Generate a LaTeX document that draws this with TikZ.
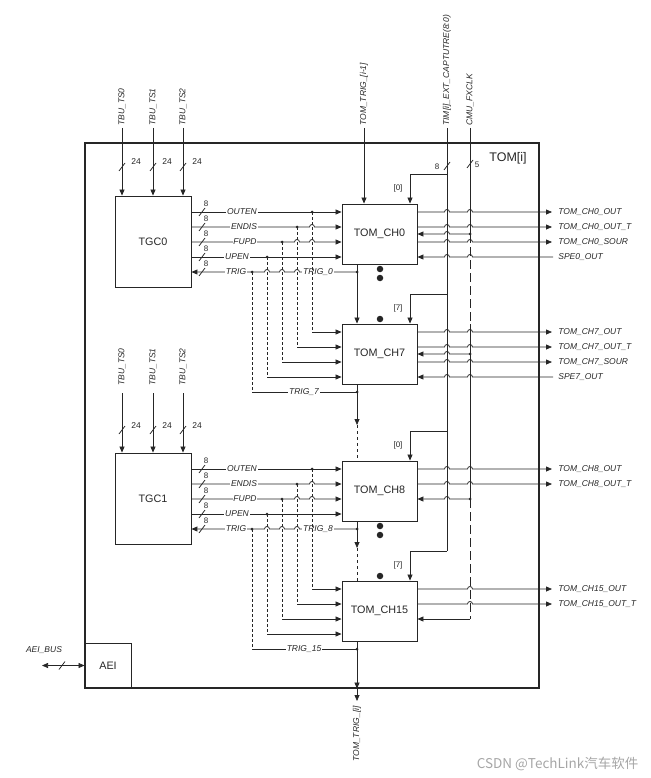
\documentclass[tikz,border=0pt]{standalone}
\usepackage{fontspec}
\setmainfont{Liberation Sans}
\newfontfamily\cjkfont{Noto Sans CJK SC}
\usepackage{tikz}
\usetikzlibrary{arrows.meta,positioning}

% bus slash and line hops
\newcommand{\busmark}[2]{\draw ({#1-3},{#2+4}) -- ({#1+3},{#2-4});}
\newcommand{\hopr}[2]{-- ({#1-2.5},#2) .. controls ({#1-2.5},{#2-3.3}) and ({#1+2.5},{#2-3.3}) .. ({#1+2.5},#2)}
\newcommand{\hopl}[2]{-- ({#1+2.5},#2) .. controls ({#1+2.5},{#2-3.3}) and ({#1-2.5},{#2-3.3}) .. ({#1-2.5},#2)}

\begin{document}
\begin{tikzpicture}[x=1pt, y=-1pt, color=black!85, line width=0.75pt,
    >={Triangle[length=6pt,width=5pt]},
    blk/.style={draw, line width=0.9pt, inner sep=0pt, font=\fontsize{10.8}{12}\selectfont},
    sig/.style={font=\fontsize{8.5}{10}\selectfont\itshape, fill=white, inner sep=0.8pt},
    outl/.style={font=\fontsize{8.5}{10}\selectfont\itshape, anchor=west, inner sep=0pt},
    vlab/.style={font=\fontsize{8.5}{10}\selectfont\itshape, rotate=90, anchor=west, inner sep=0pt},
    num/.style={font=\fontsize{8}{9}\selectfont, inner sep=0pt},
    jdot/.style={circle, fill, inner sep=0pt, minimum size=3pt},
    bdot/.style={circle, fill, inner sep=0pt, minimum size=6.5pt},
    sdash/.style={dash pattern=on 3pt off 2pt},
    ldash/.style={dash pattern=on 9pt off 4pt}]
    \useasboundingbox (0,0) rectangle (650,778);

    % TOM frame
    \node[draw, line width=1.2pt, minimum width=454, minimum height=545, inner sep=0pt] (tom) at (312,415.5) {};
    \node[font=\fontsize{12.5}{14}\selectfont] (tomlab) at (508,158) {TOM[i]};

    % AEI
    \node[blk, minimum width=46, minimum height=45] (aei) at (108,665.5) {AEI};
    \draw[<->] (42,665.5) -- (aei.west);
    \busmark{62}{665.5}
    \node[sig, fill=none] (aeibus) at (44,650) {AEI\_BUS};

    % TGC0, TOM_CH0, TOM_CH7
    \begin{scope}
        \node[blk, minimum width=76, minimum height=91] (tgc0) at (153,241.5) {TGC0};
        \node[blk, minimum width=75, minimum height=60] (ch0) at (379.5,234) {TOM\_CH0};
        \node[blk, minimum width=75, minimum height=60] (ch7) at (379.5,354) {TOM\_CH7};
        \foreach \x/\n in {122/0,153/1,183/2}{
            \draw[->] (\x,128) -- (tgc0.north -| \x,0);
            \busmark{\x}{167}
            \node[num, font=\fontsize{8.5}{10}\selectfont] at (\x+14,162) {24};
            \node[vlab] at (\x,126) {TBU\_TS\n};
        }
        \draw[->] (tgc0.east |- 0,212) -- (ch0.west |- 0,212);
        \draw[->] (tgc0.east |- 0,227) \hopr{312}{227} -- (ch0.west |- 0,227);
        \draw[->] (tgc0.east |- 0,242) \hopr{297}{242} \hopr{312}{242} -- (ch0.west |- 0,242);
        \draw[->] (tgc0.east |- 0,257) -- (ch0.west |- 0,257);
        \draw[->] (357,272) \hopl{312}{272} \hopl{297}{272} \hopl{282}{272} \hopl{267}{272} -- (tgc0.east |- 0,272);
        \foreach \y in {212,227,242,257,272}{
            \busmark{202}{\y}
            \node[num] at (206,\y-8) {8};
        }
        \node[sig] at (242,212) {OUTEN};
        \node[sig] at (244,227) {ENDIS};
        \node[sig] at (245,242) {FUPD};
        \node[sig] at (237,257) {UPEN};
        \node[sig] at (236,272) {TRIG};
        \node[sig] at (318,272) {TRIG\_0};
        \foreach \x/\ya/\yb in {312/212/332, 297/227/347, 282/242/362, 267/257/377}{
            \draw[sdash] (\x,\ya) -- (\x,\yb);
            \draw[->] (\x,\yb) -- (ch7.west |- 0,\yb);
            \node[jdot] at (\x,\ya) {};
        }
        \draw[sdash] (252,272) -- (252,392);
        \draw (252,392) -- (357,392);
        \node[jdot] at (252,272) {};
        \node[sig] at (304,392) {TRIG\_7};
        % trigger chain
        \draw[->] (ch0.south -| 357,0) -- (ch7.north -| 357,0);
        \node[jdot] at (357,272) {};
        \draw (ch7.south -| 357,0) -- (357,392);
        \node[jdot] at (357,392) {};
        \node[bdot] at (380,269) {};
        \node[bdot] at (380,278) {};
        \node[bdot] at (380,319) {};
        % outputs CH0
        \draw[->] (ch0.east |- 0,212) \hopr{447}{212} \hopr{470}{212} -- (552,212);
        \draw[->] (ch0.east |- 0,227) \hopr{447}{227} \hopr{470}{227} -- (552,227);
        \draw[->] (ch0.east |- 0,242) \hopr{447}{242} \hopr{470}{242} -- (552,242);
        \draw[->] (553,257) \hopl{470}{257} \hopl{447}{257} -- (ch0.east |- 0,257);
        \draw[->] (470,234) \hopl{447}{234} -- (ch0.east |- 0,234);
        \node[jdot] at (470,234) {};
        \node[outl] at (558,212) {TOM\_CH0\_OUT};
        \node[outl] at (558,227) {TOM\_CH0\_OUT\_T};
        \node[outl] at (558,242) {TOM\_CH0\_SOUR};
        \node[outl] at (558,257) {SPE0\_OUT};
        \draw[->] (447,174) -- (410,174) -- (ch0.north -| 410,0);
        \node[num] at (398,188) {[0]};
        % outputs CH7
        \draw[->] (ch7.east |- 0,332) \hopr{447}{332} \hopr{470}{332} -- (552,332);
        \draw[->] (ch7.east |- 0,347) \hopr{447}{347} \hopr{470}{347} -- (552,347);
        \draw[->] (ch7.east |- 0,362) \hopr{447}{362} \hopr{470}{362} -- (552,362);
        \draw[->] (553,377) \hopl{470}{377} \hopl{447}{377} -- (ch7.east |- 0,377);
        \draw[->] (470,354) \hopl{447}{354} -- (ch7.east |- 0,354);
        \node[jdot] at (470,354) {};
        \node[outl] at (558,332) {TOM\_CH7\_OUT};
        \node[outl] at (558,347) {TOM\_CH7\_OUT\_T};
        \node[outl] at (558,362) {TOM\_CH7\_SOUR};
        \node[outl] at (558,377) {SPE7\_OUT};
        \draw[->] (447,294) -- (410,294) -- (ch7.north -| 410,0);
        \node[num] at (398,308) {[7]};
    \end{scope}

    % TGC1, TOM_CH8, TOM_CH15
    \begin{scope}[shift={(0,257)}]
        \node[blk, minimum width=76, minimum height=91] (tgc1) at (153,241.5) {TGC1};
        \node[blk, minimum width=75, minimum height=60] (ch8) at (379.5,234) {TOM\_CH8};
        \node[blk, minimum width=75, minimum height=60] (ch15) at (379.5,354) {TOM\_CH15};
        \foreach \x/\n in {122/0,153/1,183/2}{
            \draw[->] (\x,136) -- (tgc1.north -| \x,0);
            \busmark{\x}{173}
            \node[num, font=\fontsize{8.5}{10}\selectfont] at (\x+14,169) {24};
            \node[vlab] at (\x,129) {TBU\_TS\n};
        }
        \draw[->] (tgc1.east |- 0,212) -- (ch8.west |- 0,212);
        \draw[->] (tgc1.east |- 0,227) \hopr{312}{227} -- (ch8.west |- 0,227);
        \draw[->] (tgc1.east |- 0,242) \hopr{297}{242} \hopr{312}{242} -- (ch8.west |- 0,242);
        \draw[->] (tgc1.east |- 0,257) -- (ch8.west |- 0,257);
        \draw[->] (357,272) \hopl{312}{272} \hopl{297}{272} \hopl{282}{272} \hopl{267}{272} -- (tgc1.east |- 0,272);
        \foreach \y in {212,227,242,257,272}{
            \busmark{202}{\y}
            \node[num] at (206,\y-8) {8};
        }
        \node[sig] at (242,212) {OUTEN};
        \node[sig] at (244,227) {ENDIS};
        \node[sig] at (245,242) {FUPD};
        \node[sig] at (237,257) {UPEN};
        \node[sig] at (236,272) {TRIG};
        \node[sig] at (318,272) {TRIG\_8};
        \foreach \x/\ya/\yb in {312/212/332, 297/227/347, 282/242/362, 267/257/377}{
            \draw[sdash] (\x,\ya) -- (\x,\yb);
            \draw[->] (\x,\yb) -- (ch15.west |- 0,\yb);
            \node[jdot] at (\x,\ya) {};
        }
        \draw[sdash] (252,272) -- (252,392);
        \draw (252,392) -- (357,392);
        \node[jdot] at (252,272) {};
        \node[sig] at (304,392) {TRIG\_15};
        % trigger chain
        \draw[->] (ch8.south -| 357,0) -- (357,291);
        \draw[dashed] (357,291) -- (ch15.north -| 357,0);
        \node[jdot] at (357,272) {};
        \draw (ch15.south -| 357,0) -- (357,392);
        \node[jdot] at (357,392) {};
        \node[bdot] at (380,269) {};
        \node[bdot] at (380,278) {};
        \node[bdot] at (380,319) {};
        % outputs CH8
        \draw[->] (ch8.east |- 0,212) \hopr{447}{212} \hopr{470}{212} -- (552,212);
        \draw[->] (ch8.east |- 0,227) \hopr{447}{227} \hopr{470}{227} -- (552,227);
        \draw[->] (470,242) \hopl{447}{242} -- (ch8.east |- 0,242);
        \node[jdot] at (470,242) {};
        \node[outl] at (558,212) {TOM\_CH8\_OUT};
        \node[outl] at (558,227) {TOM\_CH8\_OUT\_T};
        \draw[->] (447,174) -- (410,174) -- (ch8.north -| 410,0);
        \node[num] at (398,188) {[0]};
        % outputs CH15
        \draw[->] (ch15.east |- 0,332) \hopr{470}{332} -- (552,332);
        \draw[->] (ch15.east |- 0,347) \hopr{470}{347} -- (552,347);
        \draw[->] (470,362) -- (ch15.east |- 0,362);
        \node[outl] at (558,332) {TOM\_CH15\_OUT};
        \node[outl] at (558,347) {TOM\_CH15\_OUT\_T};
        \draw[->] (447,294) -- (410,294) -- (ch15.north -| 410,0);
        \node[num] at (398,308) {[7]};
    \end{scope}

    % inputs from above
    \draw[->] (364,128) -- (ch0.north -| 364,0);
    \node[vlab] at (364,126) {TOM\_TRIG\_[i-1]};
    \draw (447,128) -- (447,551);
    \busmark{447}{166}
    \node[num] at (437,167) {8};
    \node[vlab] at (447,126) {TIM[i]\_EXT\_CAPTUTRE(8:0)};
    \draw (470,128) -- (470,234);
    \draw[ldash] (470,234) -- (470,324);
    \draw (470,324) -- (470,499);
    \draw[ldash] (470,499) -- (470,619);
    \busmark{470}{164}
    \node[num] at (477,165) {5};
    \node[vlab] at (470,126) {CMU\_FXCLK};

    % CH7 -> CH8 and trigger out
    \draw[->] (357,392) -- (357,425);
    \draw[dashed] (357,425) -- (ch8.north -| 357,0);
    \draw[->] (357,649) -- (tom.south -| 357,0);
    \draw[->] (tom.south -| 357,0) -- (357,701);
    \node[vlab, anchor=east] at (357,706) {TOM\_TRIG\_[i]};

    \node[font=\cjkfont\fontsize{13.5}{15}\selectfont, text=gray!70, anchor=east] (mark) at (642,764) {CSDN @TechLink汽车软件};
\end{tikzpicture}
\end{document}
